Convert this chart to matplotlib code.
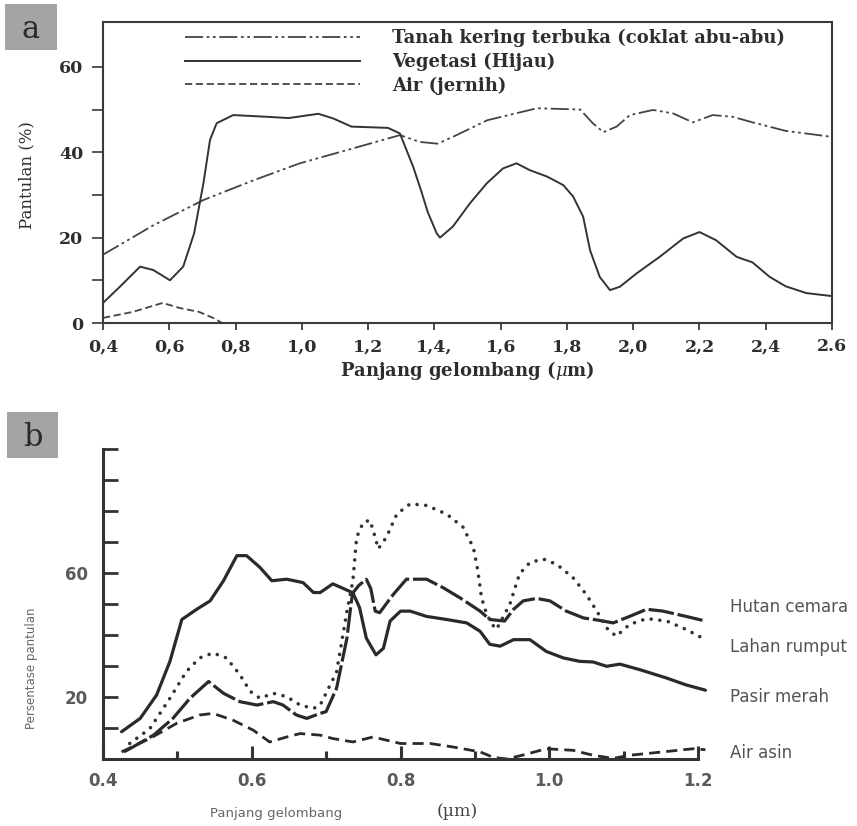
import matplotlib
matplotlib.use("Agg")
import matplotlib.pyplot as plt
from matplotlib.patches import Rectangle

plt.rcParams['mathtext.fontset'] = 'dejavuserif'

W, H = 857, 826
fig = plt.figure(figsize=(W / 100, H / 100), dpi=100)
fig.patch.set_facecolor('white')


def fx(px):
    return px / W


def fy(py):
    return 1 - py / H


# ---------------- Panel a data ----------------
a_xticks = [0.4, 0.6, 0.8, 1.0, 1.2, 1.4, 1.6, 1.8, 2.0, 2.2, 2.4, 2.6]
a_xticklabels = ['0,4', '0,6', '0,8', '1,0', '1,2', '1,4,', '1,6', '1,8', '2,0', '2,2', '2,4', '2.6']
a_yticks = [0, 20, 40, 60]
a_labels = ['Tanah kering terbuka (coklat abu-abu)', 'Vegetasi (Hijau)', 'Air (jernih)']

tanah_x = [0.40, 0.55, 0.703, 0.85, 0.994, 1.15, 1.296, 1.357, 1.41, 1.456, 1.56, 1.71, 1.84, 1.878,
           1.91, 1.95, 1.99, 2.06, 2.12, 2.18, 2.24, 2.30, 2.36, 2.46, 2.60]
tanah_y = [16.0, 22.8, 28.8, 33.3, 37.4, 40.8, 44.0, 42.4, 42.0, 43.6, 47.5, 50.3, 50.0, 46.8,
           44.7, 46.0, 48.7, 49.9, 49.1, 47.0, 48.7, 48.3, 47.0, 45.0, 43.6]

veg_x = [0.40, 0.451, 0.512, 0.552, 0.602, 0.642, 0.675, 0.703, 0.723, 0.743, 0.793, 0.894, 0.96,
         1.05, 1.095, 1.15, 1.26, 1.296, 1.336, 1.36, 1.38, 1.407, 1.417, 1.456, 1.507, 1.558,
         1.607, 1.648, 1.688, 1.74, 1.789, 1.819, 1.849, 1.87, 1.899, 1.93, 1.96, 2.01, 2.08,
         2.151, 2.20, 2.25, 2.312, 2.36, 2.412, 2.46, 2.523, 2.60]
veg_y = [4.7, 8.5, 13.2, 12.4, 10.0, 13.2, 21.0, 32.7, 42.9, 46.8, 48.7, 48.3, 48.0,
         49.0, 47.9, 46.0, 45.7, 44.4, 36.6, 31.0, 26.0, 21.0, 20.0, 22.6, 28.0, 32.7,
         36.2, 37.4, 35.8, 34.3, 32.3, 29.6, 24.9, 17.0, 10.8, 7.7, 8.5, 11.6, 15.5,
         19.8, 21.3, 19.4, 15.5, 14.2, 10.8, 8.6, 7.0, 6.3]

air_x = [0.40, 0.49, 0.58, 0.632, 0.69, 0.732, 0.76, 0.80]
air_y = [1.2, 2.6, 4.7, 3.5, 2.6, 1.2, 0.0, 0.0]

# ---------------- Panel b data ----------------
b_xticks = [0.4, 0.6, 0.8, 1.0, 1.2]
b_xticklabels = ['0.4', '0.6', '0.8', '1.0', '1.2']
b_yticks = [10, 20, 30, 40, 50, 60, 70, 80, 90, 100]
b_yticklabels = ['', '20', '', '', '', '60', '', '', '', '']
b_names = ['Hutan cemara', 'Lahan rumput', 'Pasir merah', 'Air asin']

pasir_x = [0.425, 0.45, 0.472, 0.49, 0.506, 0.526, 0.544, 0.562, 0.58, 0.593, 0.611, 0.627, 0.647,
           0.669, 0.683, 0.692, 0.709, 0.725, 0.736, 0.745, 0.754, 0.767, 0.777, 0.786, 0.80,
           0.813, 0.835, 0.862, 0.889, 0.907, 0.92, 0.934, 0.952, 0.974, 0.996, 1.019, 1.041,
           1.059, 1.077, 1.095, 1.122, 1.158, 1.184, 1.21]
pasir_y = [8.8, 13.1, 20.6, 31.5, 45.0, 48.3, 51.0, 57.5, 65.6, 65.6, 61.8, 57.5, 58.0,
           56.9, 53.7, 53.7, 56.5, 54.8, 53.6, 48.8, 39.0, 33.6, 35.7, 44.5, 47.7,
           47.7, 46.0, 45.0, 43.9, 41.2, 37.0, 36.4, 38.5, 38.5, 34.7, 32.6, 31.5,
           31.3, 29.9, 30.6, 28.8, 26.1, 23.9, 22.2]

hutan_x = [0.428, 0.436, 0.468, 0.494, 0.517, 0.542, 0.562, 0.584, 0.607, 0.629, 0.642, 0.66,
           0.674, 0.692, 0.70, 0.714, 0.728, 0.734, 0.736, 0.744, 0.754, 0.76, 0.766, 0.772,
           0.79, 0.808, 0.835, 0.857, 0.88, 0.907, 0.92, 0.94, 0.952, 0.965, 0.983, 1.001,
           1.023, 1.046, 1.068, 1.086, 1.108, 1.131, 1.153, 1.184, 1.21]
hutan_y = [2.3, 3.3, 7.7, 13.1, 19.6, 25.0, 21.2, 18.5, 17.4, 18.5, 17.4, 14.2,
           13.1, 14.7, 15.3, 22.8, 39.0, 51.0, 53.6, 56.0, 58.0, 55.0, 47.7, 47.2,
           53.0, 58.0, 58.0, 55.3, 52.0, 47.7, 45.0, 44.5, 48.3, 51.0, 51.8, 51.0,
           47.7, 45.5, 44.7, 43.9, 46.0, 48.3, 47.7, 46.0, 44.5]

lahan_x = [0.436, 0.463, 0.49, 0.512, 0.53, 0.548, 0.566, 0.584, 0.598, 0.611, 0.629, 0.647,
           0.665, 0.683, 0.692, 0.714, 0.728, 0.736, 0.741, 0.75, 0.759, 0.766, 0.77, 0.781,
           0.795, 0.813, 0.835, 0.862, 0.884, 0.898, 0.904, 0.909, 0.916, 0.925, 0.929, 0.947,
           0.96, 0.974, 0.992, 1.01, 1.032, 1.05, 1.064, 1.077, 1.09, 1.108, 1.131, 1.158,
           1.184, 1.21]
lahan_y = [5.0, 9.8, 19.6, 28.2, 32.6, 34.2, 32.6, 27.2, 21.8, 19.6, 21.2, 20.1,
           17.4, 16.3, 17.4, 28.0, 47.7, 57.5, 71.5, 76.4, 77.0, 71.5, 67.8, 71.5,
           79.0, 82.3, 81.8, 79.0, 74.8, 68.2, 60.7, 52.0, 46.6, 42.9, 41.8, 49.9,
           59.7, 63.4, 64.5, 62.8, 58.5, 53.0, 47.7, 42.3, 39.6, 43.4, 45.3, 44.5,
           41.8, 38.5]

asin_x = [0.425, 0.463, 0.499, 0.53, 0.548, 0.575, 0.602, 0.624, 0.647, 0.665, 0.692, 0.709,
          0.736, 0.763, 0.80, 0.84, 0.87, 0.907, 0.925, 0.943, 0.965, 0.996, 1.032, 1.059,
          1.086, 1.108, 1.153, 1.193, 1.21]
asin_y = [2.3, 6.6, 11.5, 14.2, 14.7, 12.5, 9.3, 5.5, 7.1, 8.2, 7.7, 6.6,
          5.5, 7.1, 5.0, 5.0, 3.9, 2.3, 0.5, 0.0, 1.3, 3.3, 2.8, 1.2,
          0.2, 1.2, 2.3, 3.3, 3.0]

# ================= Panel a =================
SERIF = ['DejaVu Serif']
ink = '#2e2e2e'
ax1 = fig.add_axes([fx(103), fy(323), (832 - 103) / W, (323 - 22) / H])
ax1.set_xlim(0.4, 2.6)
ax1.set_ylim(0, 70.5)
for s in ax1.spines.values():
    s.set_linewidth(1.5)
    s.set_color('#3a3a3a')

l1, = ax1.plot(tanah_x, tanah_y, color='#444444', lw=1.3,
               linestyle=(0, (10, 2, 1.5, 2, 1.5, 2)))
l2, = ax1.plot(veg_x, veg_y, color='#333333', lw=1.4, linestyle='-')
l3, = ax1.plot(air_x, air_y, color='#444444', lw=1.3, linestyle=(0, (4, 2)))

ax1.set_xticks(a_xticks)
ax1.set_xticklabels(a_xticklabels, fontfamily=SERIF, fontweight='bold', fontsize=12.5, color=ink)
ax1.set_yticks(a_yticks)
ax1.set_yticklabels([str(v) for v in a_yticks], fontfamily=SERIF, fontweight='bold', fontsize=12.5, color=ink)
ax1.set_yticks([10, 30, 50], minor=True)
ax1.tick_params(axis='x', direction='out', length=5, width=1.3, pad=6, color='#3a3a3a')
ax1.tick_params(axis='y', which='both', direction='out', length=8, width=1.2, pad=6, color='#3a3a3a')
ax1.set_xlabel(r'Panjang gelombang ($\mu$m)', fontfamily=SERIF, fontweight='bold', fontsize=13,
               color=ink, labelpad=3)
ax1.set_ylabel('Pantulan (%)', fontfamily=SERIF, fontsize=12, color=ink)
ax1.yaxis.set_label_coords((35 - 103) / 729, (323 - 175) / 301)

leg = ax1.legend([l1, l2, l3], a_labels, loc='upper left',
                 bbox_to_anchor=(fx(185), fy(29)), bbox_transform=fig.transFigure,
                 frameon=False, handlelength=9.7, handletextpad=1.75, labelspacing=0.3,
                 borderpad=0, borderaxespad=0,
                 prop={'family': SERIF, 'weight': 'bold', 'size': 13})
for t in leg.get_texts():
    t.set_color(ink)

# ================= Panel b =================
SANS = ['DejaVu Sans']
gray = '#555259'
ax2 = fig.add_axes([fx(103), fy(759), (698 - 103) / W, (759 - 449) / H])
ax2.set_xlim(0.4, 1.2)
ax2.set_ylim(0, 100)
ax2.spines['top'].set_visible(False)
ax2.spines['right'].set_visible(False)
for k in ['left', 'bottom']:
    ax2.spines[k].set_linewidth(2.2)
    ax2.spines[k].set_color('#333333')

lw_b = 2.3
ax2.plot(pasir_x, pasir_y, color='#2a2a2a', lw=lw_b, linestyle='-', clip_on=False,
         solid_capstyle='round', solid_joinstyle='round')
ax2.plot(hutan_x, hutan_y, color='#2a2a2a', lw=lw_b, linestyle=(0, (8, 1.2)), clip_on=False)
ax2.plot(lahan_x, lahan_y, color='#333333', lw=2.6, linestyle=(0, (0.01, 2.4)),
         dash_capstyle='round', clip_on=False)
ax2.plot(asin_x, asin_y, color='#2a2a2a', lw=2.0, linestyle=(0, (4, 2.2)), clip_on=False)

ax2.set_xticks(b_xticks)
ax2.set_xticklabels(b_xticklabels, fontfamily=SANS, fontweight='bold', fontsize=12, color='#5a5a5a')
ax2.set_xticks([0.5, 0.7, 0.9, 1.1], minor=True)
ax2.set_yticks(b_yticks)
ax2.set_yticklabels(b_yticklabels, fontfamily=SANS, fontweight='bold', fontsize=12, color='#5a5a5a')
ax2.tick_params(axis='x', which='major', direction='in', length=9.5, width=2.2, pad=9, color='#333333')
ax2.tick_params(axis='x', which='minor', direction='in', length=6, width=2.2, color='#333333')
ax2.tick_params(axis='y', direction='in', length=11, width=2.0, pad=11, color='#333333')

ax2.set_ylabel('Persentase pantulan', fontfamily=SANS, fontsize=8.5, color='#666666')
ax2.yaxis.set_label_coords((38 - 103) / 595, (759 - 668) / 310)

# right-side curve names
name_y = [607, 647, 697, 753]
for name, py in zip(b_names, name_y):
    fig.text(fx(730), fy(py), name, fontfamily=SANS, fontsize=12, color=gray,
             ha='left', va='center')

fig.text(fx(210), fy(813), 'Panjang gelombang', fontfamily=SANS, fontsize=9.5, color='#666666',
         ha='left', va='center')
fig.text(fx(437), fy(812), '(µm)', fontfamily=SERIF, fontsize=12.5, color='#444444',
         ha='left', va='center')

# panel tags
for (x0, y0, x1, y1, tag) in [(5, 4, 57, 50, 'a'), (7, 412, 58, 458, 'b')]:
    fig.patches.append(Rectangle((fx(x0), fy(y1)), (x1 - x0) / W, (y1 - y0) / H,
                                 transform=fig.transFigure, facecolor='#a4a4a4',
                                 edgecolor='none', zorder=0))
    fig.text(fx((x0 + x1) / 2), fy((y0 + y1) / 2 + 2), tag, fontfamily=SERIF, fontsize=22,
             color='#2a2a2a', ha='center', va='center')

fig.savefig('out.png', dpi=100, facecolor='white')
